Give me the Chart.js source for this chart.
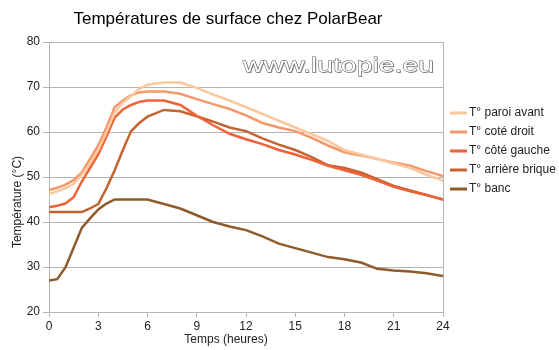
<!DOCTYPE html>
<html>
<head>
<meta charset="utf-8">
<script src="https://cdn.jsdelivr.net/npm/chart.js@4/dist/chart.umd.min.js"></script>
<style>
  body { margin: 0; background: #fff; }
  #wrap { width: 559px; height: 350px; }
</style>
</head>
<body>
<div id="wrap"><canvas id="myChart" width="559" height="350"></canvas></div>
<script>
// heures de mesure
var hours = [0, 0.5, 1, 1.5, 2, 2.5, 3, 3.5, 4, 4.5, 5, 5.5, 6, 7, 8, 9, 10, 11, 12, 13, 14, 15, 16, 17, 18, 19, 20, 21, 22, 23, 24];

var paroiAvant   = [46.2, 46.8, 47.5, 48.5, 50.5, 53, 56, 60, 64.3, 66.5, 68, 69.6, 70.5, 71, 71, 69.8, 68.3, 67, 65.5, 64, 62.5, 61, 59.5, 58, 56, 55, 54, 53, 52, 50.5, 49.2];
var coteDroit    = [47.1, 47.6, 48.3, 49.3, 51, 54, 57, 61, 65.5, 67, 68.2, 68.8, 69, 69, 68.5, 67.3, 66.2, 65.1, 63.7, 62, 61, 60.2, 58.7, 57, 55.5, 54.8, 54, 53.2, 52.5, 51.3, 50.2];
var coteGauche   = [43.3, 43.6, 44.1, 45.5, 49, 52, 55, 59, 63.2, 65, 66, 66.7, 67, 67, 66, 63.6, 61.5, 59.6, 58.4, 57.3, 56, 55, 53.8, 52.5, 51.5, 50.5, 49.2, 47.8, 46.8, 46, 45];
var arriereBrique = [42.2, 42.2, 42.2, 42.2, 42.2, 43, 44, 47.5, 51.5, 56, 60.2, 62, 63.4, 64.9, 64.6, 63.5, 62.3, 61, 60.2, 58.6, 57.2, 56, 54.4, 52.6, 52, 51, 49.5, 48, 47, 46, 45];
var banc         = [27, 27.3, 29.9, 34.3, 38.7, 40.8, 42.8, 44.1, 45, 45, 45, 45, 45, 44, 43, 41.5, 40, 39, 38.2, 36.8, 35.2, 34.2, 33.2, 32.2, 31.7, 31, 29.6, 29.2, 29, 28.6, 28];

var labels = ['T° paroi avant', 'T° coté droit', 'T° côté gauche', 'T° arrière brique', 'T° banc'];
var colors = ['#fbc89e', '#f4976a', '#ee6236', '#c4632f', '#8e5b2a'];
var series = [paroiAvant, coteDroit, coteGauche, arriereBrique, banc];

function pts(vals) {
    return vals.map(function (v, i) { return { x: hours[i], y: v }; });
}

Chart.defaults.font.family = '"Liberation Sans", Arial, sans-serif';
Chart.defaults.font.size = 12;
Chart.defaults.color = '#222';

var decor = {
    id: 'decor',
    afterDatasetsDraw: function (chart) {
        var ctx = chart.ctx, a = chart.chartArea;
        ctx.save();
        // cadre droit
        ctx.strokeStyle = '#b3b3b3';
        ctx.lineWidth = 1;
        ctx.beginPath();
        ctx.moveTo(a.right + 0.5, a.top);
        ctx.lineTo(a.right + 0.5, a.bottom);
        ctx.stroke();

        // filigrane
        ctx.save();
        ctx.translate(243, 72);
        ctx.scale(1.42, 1);
        ctx.font = '20px "Liberation Sans", Arial, sans-serif';
        ctx.textBaseline = 'alphabetic';
        ctx.fillStyle = 'rgba(0,0,0,0.35)';
        ctx.fillText('www.lutopie.eu', 0.8, 1);
        ctx.fillStyle = '#fff';
        ctx.strokeStyle = '#555';
        ctx.lineWidth = 0.8;
        ctx.strokeText('www.lutopie.eu', 0, 0);
        ctx.fillText('www.lutopie.eu', 0, 0);
        ctx.restore();

        // titre
        ctx.fillStyle = '#000';
        ctx.textAlign = 'center';
        ctx.textBaseline = 'middle';
        ctx.font = '17px "Liberation Sans", Arial, sans-serif';
        ctx.fillText('Températures de surface chez PolarBear', 228, 19);

        // titres des axes
        ctx.font = '12px "Liberation Sans", Arial, sans-serif';
        ctx.fillStyle = '#222';
        ctx.fillText('Temps (heures)', 226, 340);
        ctx.save();
        ctx.translate(18, 202);
        ctx.rotate(-Math.PI / 2);
        ctx.fillText('Température (°C)', 0, 0);
        ctx.restore();

        // légende
        ctx.textAlign = 'left';
        chart.data.datasets.forEach(function (ds, i) {
            var y = 113 + i * 19;
            ctx.strokeStyle = ds.borderColor;
            ctx.lineWidth = 3;
            ctx.beginPath();
            ctx.moveTo(450, y);
            ctx.lineTo(467, y);
            ctx.stroke();
            ctx.fillStyle = '#222';
            ctx.fillText(ds.label, 469, y);
        });
        ctx.restore();
    }
};

var ctx = document.getElementById('myChart').getContext('2d');
var myChart = new Chart(ctx, {
    type: 'line',
    data: {
        datasets: series.map(function (s, i) {
            return {
                label: labels[i],
                data: pts(s),
                borderColor: colors[i],
                backgroundColor: colors[i],
                borderWidth: 2.5,
                pointRadius: 0,
                tension: 0
            };
        })
    },
    options: {
        responsive: false,
        animation: false,
        layout: { padding: { left: 0, right: 116, top: 42, bottom: 0 } },
        plugins: {
            legend: { display: false },
            title: { display: false },
            tooltip: { enabled: false }
        },
        scales: {
            x: {
                type: 'linear',
                min: 0,
                max: 24,
                ticks: { stepSize: 3, padding: 2, maxRotation: 0 },
                grid: { drawOnChartArea: false, drawTicks: true, tickLength: 5, color: '#b3b3b3' },
                border: { color: '#b3b3b3' },
                afterFit: function (scale) { scale.height = 38; }
            },
            y: {
                min: 20,
                max: 80,
                ticks: { stepSize: 10, padding: 3 },
                grid: { color: '#b3b3b3', tickLength: 6 },
                border: { color: '#b3b3b3' },
                afterFit: function (scale) { scale.width = 49; }
            }
        }
    },
    plugins: [decor]
});
</script>
</body>
</html>
